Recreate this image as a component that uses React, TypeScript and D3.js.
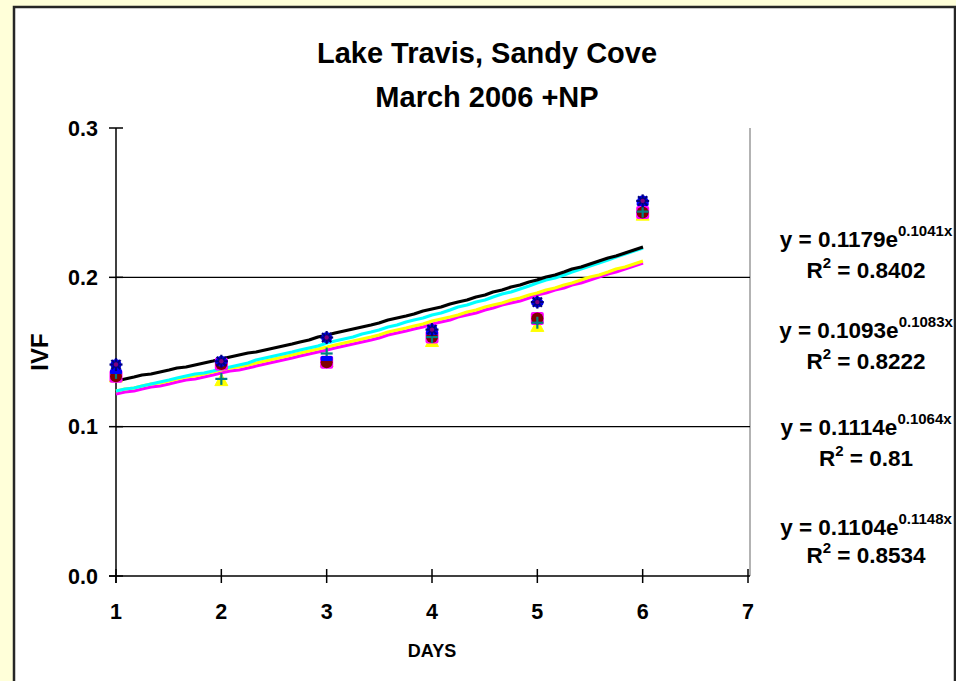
import React from "react";
import * as d3 from "d3";

// Daily IVF readings for each replicate (x = day)
const days = [1, 2, 3, 4, 5, 6];
const repStar = [0.1416, 0.1438, 0.1597, 0.165, 0.1834, 0.2512];
const repDash = [0.137, 0.1436, 0.1456, 0.163, 0.183, 0.2495];
const repCircle = [0.1338, 0.142, 0.1432, 0.16, 0.1725, 0.2434];
const repTriangle = [0.134, 0.1315, 0.144, 0.1577, 0.1678, 0.2423];
const repPlus = [0.136, 0.132, 0.149, 0.16, 0.1696, 0.244];

// Exponential trendlines y = a·e^(b·x)
const trendA = [0.1179, 0.1093, 0.1114, 0.1104];
const trendB = [0.1041, 0.1083, 0.1064, 0.1148];
const trendR2 = ["0.8402", "0.8222", "0.81", "0.8534"];
const trendColors = ["#000000", "#FF00FF", "#FFFF00", "#00FFFF"];
const trendDrawOrder = [1, 2, 3, 0];

const xTicks = [1, 2, 3, 4, 5, 6, 7];
const yTicks = [0, 0.1, 0.2, 0.3];
const yTickLabels = ["0.0", "0.1", "0.2", "0.3"];

const titleLines = ["Lake Travis, Sandy Cove", "March 2006 +NP"];

const FONT = "'Liberation Sans', Arial, Helvetica, sans-serif";

export default function App() {
  const W = 956;
  const H = 681;
  const x = d3.scaleLinear().domain([1, 7]).range([116, 748]);
  const y = d3.scaleLinear().domain([0, 0.3]).range([576, 128]);

  const trendPath = (a: number, b: number) => {
    const pts = d3.range(0, 61).map((i) => 1 + (i * 5) / 60);
    const line = d3
      .line<number>()
      .x((v) => Math.round(x(v)))
      .y((v) => Math.round(y(a * Math.exp(b * v))));
    return line(pts) || "";
  };

  const eqBaselines = [247, 338, 435, 535];
  const r2Baselines = [278, 369, 466, 563];

  return (
    <div style={{ position: "fixed", left: 0, top: 0, width: W, height: H }}>
      <svg width={W} height={H} style={{ display: "block" }} fontFamily={FONT}>
        <rect x={0} y={0} width={W} height={H} fill="#FFFFD9" />
        <rect x={14} y={7} width={941} height={720} fill="#FFFFFF" stroke="#262626" strokeWidth={2.5} />

        {/* title */}
        {titleLines.map((t, i) => (
          <text key={t} x={487} y={63 + i * 44} textAnchor="middle" fontSize={29} fontWeight="bold" fill="#000">
            {t}
          </text>
        ))}

        {/* plot area right edge */}
        <line x1={750} x2={750} y1={y(0.3)} y2={y(0)} stroke="#9a9a9a" strokeWidth={1.5} />

        {/* gridlines */}
        {yTicks
          .filter((t) => t > 0 && t < 0.3)
          .map((t) => (
            <line key={"g" + t} x1={x(1)} x2={750} y1={y(t)} y2={y(t)} stroke="#000" strokeWidth={1.2} />
          ))}

        {/* axes */}
        <line x1={x(1)} x2={x(1)} y1={y(0.3)} y2={y(0) + 7} stroke="#000" strokeWidth={1.5} />
        <line x1={x(1) - 7} x2={750} y1={y(0)} y2={y(0)} stroke="#000" strokeWidth={1.5} />
        {yTicks.map((t, i) => (
          <g key={"yt" + t}>
            <line x1={x(1) - 7} x2={x(1) + 7} y1={y(t)} y2={y(t)} stroke="#000" strokeWidth={1.5} />
            <text x={98} y={y(t) + 7.5} textAnchor="end" fontSize={21.5} fontWeight="bold">
              {yTickLabels[i]}
            </text>
          </g>
        ))}
        {xTicks.map((t) => (
          <g key={"xt" + t}>
            <line x1={x(t)} x2={x(t)} y1={y(0) - 7} y2={y(0) + 7} stroke="#000" strokeWidth={1.5} />
            <text x={x(t)} y={619} textAnchor="middle" fontSize={21.5} fontWeight="bold">
              {t}
            </text>
          </g>
        ))}
        <text x={432} y={657} textAnchor="middle" fontSize={18} fontWeight="bold">
          DAYS
        </text>
        <text
          transform={`translate(48, 352) rotate(-90)`}
          textAnchor="middle"
          fontSize={24}
          fontWeight="bold"
        >
          IVF
        </text>

        {/* trendlines */}
        {trendDrawOrder.map((k) => (
          <path
            key={"tr" + k}
            d={trendPath(trendA[k], trendB[k])}
            fill="none"
            stroke={trendColors[k]}
            strokeWidth={3.2}
            strokeLinejoin="round"
          />
        ))}

        {/* markers */}
        {days.map((d, i) => (
          <g key={"tri" + d} transform={`translate(${x(d)},${y(repTriangle[i])})`}>
            <path d="M0,-6 L6.5,6 L-6.5,6 Z" fill="#FFFF00" stroke="#FFFF00" strokeWidth={1} />
          </g>
        ))}
        {days.map((d, i) => (
          <g key={"cir" + d} transform={`translate(${x(d)},${y(repCircle[i])})`}>
            <rect x={-6.5} y={-6.5} width={13} height={13} rx={2} fill="#FF00FF" />
            <circle r={6} fill="#800000" />
          </g>
        ))}
        {days.map((d, i) => (
          <g key={"pl" + d} transform={`translate(${x(d)},${y(repPlus[i])})`}>
            <line x1={-6} x2={6} y1={0} y2={0} stroke="#008080" strokeWidth={2.2} />
            <line x1={0} x2={0} y1={-6} y2={6} stroke="#008080" strokeWidth={2.2} />
          </g>
        ))}
        {days.map((d, i) => (
          <g key={"da" + d} transform={`translate(${x(d)},${y(repDash[i])})`}>
            <rect x={-6} y={-2.5} width={12} height={5} rx={1.5} fill="#0000FF" />
          </g>
        ))}
        {days.map((d, i) => (
          <g key={"st" + d} transform={`translate(${x(d)},${y(repStar[i])})`}>
            <circle r={5.5} fill="#0000FF" />
            <line x1={-6.5} x2={6.5} y1={0} y2={0} stroke="#000080" strokeWidth={2.2} />
            <line x1={0} x2={0} y1={-6.5} y2={6.5} stroke="#000080" strokeWidth={2.2} />
            <line x1={-4.6} x2={4.6} y1={-4.6} y2={4.6} stroke="#000080" strokeWidth={2.2} />
            <line x1={-4.6} x2={4.6} y1={4.6} y2={-4.6} stroke="#000080" strokeWidth={2.2} />
            <circle r={2.2} fill="#800080" />
          </g>
        ))}

        {/* trendline equations */}
        {trendA.map((a, k) => (
          <g key={"eq" + k} fontWeight="bold">
            <text x={866} y={eqBaselines[k]} textAnchor="middle" fontSize={22.5}>
              <tspan>{`y = ${a}e`}</tspan>
              <tspan fontSize={15} dy={-11}>{`${trendB[k]}x`}</tspan>
            </text>
            <text x={866} y={r2Baselines[k]} textAnchor="middle" fontSize={22.5}>
              <tspan>R</tspan>
              <tspan fontSize={15} dy={-10}>2</tspan>
              <tspan dy={10}>{` = ${trendR2[k]}`}</tspan>
            </text>
          </g>
        ))}
      </svg>
    </div>
  );
}
